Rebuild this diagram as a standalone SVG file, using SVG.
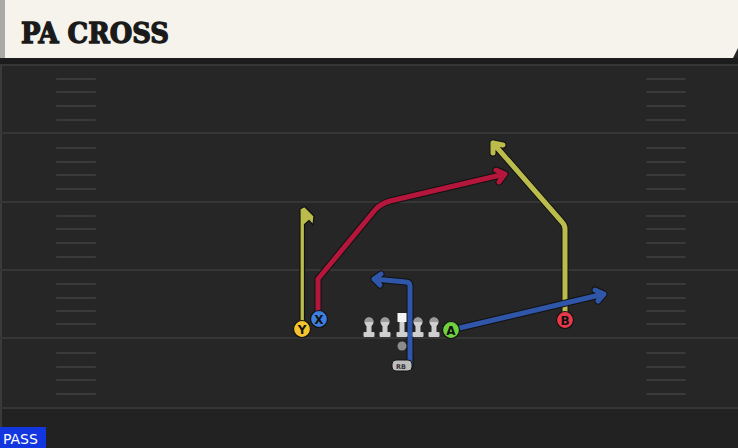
<svg xmlns="http://www.w3.org/2000/svg" width="738" height="448" viewBox="0 0 738 448">
<style>
.fl{stroke:#363636;stroke-width:2}
.hs{stroke:#3a3a3a;stroke-width:2;stroke-linecap:round}
.rt{fill:none;stroke-width:5;stroke-linejoin:round;stroke-linecap:round}
.ol{fill:none;stroke:#111;stroke-width:7;stroke-linejoin:round;stroke-linecap:round}
.pc{stroke:#111;stroke-width:1.2}
.pl{font-family:'DejaVu Sans','Liberation Sans',sans-serif;font-weight:bold;font-size:12px;fill:#111;text-anchor:middle}
</style>
<defs>
<g id="hashes">
<line class="hs" x1="57" x2="95" y1="0" y2="0"/><line class="hs" x1="647" x2="685" y1="0" y2="0"/>
</g>
<g id="lineman">
<circle cx="0" cy="-10" r="4.5" fill="#cfcfcf"/>
<path d="M-4.5,-10 a4.5,4.5 0 0 1 9,0 z" fill="#9a9a9a"/>
<rect x="-2.5" y="-10" width="5" height="10" fill="#cfcfcf"/>
<rect x="-5.5" y="0" width="11" height="5" rx="1" fill="#cfcfcf"/>
</g>
</defs>
<rect width="738" height="448" fill="#262626"/>
<rect y="408" width="738" height="40" fill="#222"/>
<rect x="0" y="58" width="2" height="390" fill="#3a3a3a"/>
<g id="field">
<rect x="0" y="58" width="738" height="6" fill="#1c1c1c"/>
<line class="fl" x1="0" x2="738" y1="65" y2="65"/>
<line class="fl" x1="0" x2="738" y1="133" y2="133"/>
<line class="fl" x1="0" x2="738" y1="202" y2="202"/>
<line class="fl" x1="0" x2="738" y1="270" y2="270"/>
<line class="fl" x1="0" x2="738" y1="338" y2="338"/>
<line class="fl" x1="0" x2="738" y1="408" y2="408"/>
<use href="#hashes" y="79"/><use href="#hashes" y="92"/><use href="#hashes" y="106"/><use href="#hashes" y="120"/>
<use href="#hashes" y="148"/><use href="#hashes" y="162"/><use href="#hashes" y="175"/><use href="#hashes" y="189"/>
<use href="#hashes" y="216"/><use href="#hashes" y="229"/><use href="#hashes" y="243"/><use href="#hashes" y="257"/>
<use href="#hashes" y="284"/><use href="#hashes" y="298"/><use href="#hashes" y="311"/><use href="#hashes" y="324"/>
<use href="#hashes" y="353"/><use href="#hashes" y="367"/><use href="#hashes" y="380"/><use href="#hashes" y="394"/>
</g>
<g id="header">
<rect x="0" y="0" width="5" height="58" fill="#a9aaa6"/>
<polygon points="5,0 738,0 738,48 733,58 5,58" fill="#f5f3ec"/>
<text x="21" y="43" font-family="'DejaVu Serif','Liberation Serif',serif" font-weight="bold" font-size="27" fill="#1a1a1a" stroke="#1a1a1a" stroke-width="1.3" textLength="148" lengthAdjust="spacingAndGlyphs">PA CROSS</text>
</g>
<g id="connectors">
<g id="route-y">
<polygon points="300,209 304.5,206.5 314,216 313,225 309,220.5 304.5,224.5 304.5,330 300,330" fill="#bcbc4c" stroke="#111" stroke-width="1.2" stroke-linejoin="round"/>
</g>
<g id="route-x">
<path class="ol" d="M318,318 V279 L375,210 Q380,204 390,201 L505,174 M496,170 L505,174 L499,182"/>
<path class="rt" stroke="#b4163c" d="M318,318 V279 L375,210 Q380,204 390,201 L505,174 M496,170 L505,174 L499,182"/>
</g>
<g id="route-b">
<path class="ol" d="M565,320 V229 Q565,225 562,222 L493,143 M493,153 L493,143 L503,145"/>
<path class="rt" stroke="#bcbc4c" d="M565,320 V229 Q565,225 562,222 L493,143 M493,153 L493,143 L503,145"/>
</g>
<g id="route-a">
<path class="ol" d="M451,330 L604,294 M595,290 L604,294 L598,301"/>
<path class="rt" stroke="#2f56a8" d="M451,330 L604,294 M595,290 L604,294 L598,301"/>
</g>
<g id="route-rb">
<path class="ol" d="M410,366 V286 Q410,282 406,282 L374,279 M381,274 L374,279 L380,285"/>
<path class="rt" stroke="#2f56a8" d="M410,366 V286 Q410,282 406,282 L374,279 M381,274 L374,279 L380,285"/>
</g>
</g>
<g id="line">
<use href="#lineman" x="369" y="332"/>
<use href="#lineman" x="385" y="332"/>
<g id="center"><rect x="397.5" y="313" width="9" height="9" fill="#f4f4f4"/><rect x="399.5" y="322" width="5" height="10" fill="#cfcfcf"/><rect x="396.5" y="332" width="11" height="5" rx="1" fill="#cfcfcf"/></g>
<use href="#lineman" x="418" y="332"/>
<use href="#lineman" x="434" y="332"/>
</g>
<g id="qb"><circle cx="402" cy="346" r="4.5" fill="#8c8c8c"/></g>
<g id="rb"><rect x="392" y="360" width="20" height="11" rx="4" fill="#bdbdbd" stroke="#111" stroke-width="1"/><text x="401" y="368.5" font-family="'DejaVu Sans','Liberation Sans',sans-serif" font-weight="bold" font-size="6.5" fill="#333" text-anchor="middle">RB</text></g>
<g id="player-y"><circle class="pc" cx="302" cy="329" r="8.5" fill="#f4c42c"/><text class="pl" x="302" y="333.5">Y</text></g>
<g id="player-x"><circle class="pc" cx="319" cy="319" r="8.5" fill="#3d7ede"/><text class="pl" x="319" y="323.5">X</text></g>
<g id="player-a"><circle class="pc" cx="451" cy="330" r="8.5" fill="#6fd13e"/><text class="pl" x="451" y="334.5">A</text></g>
<g id="player-b"><circle class="pc" cx="565" cy="320" r="8.5" fill="#e8394a"/><text class="pl" x="565" y="324.5">B</text></g>
<g id="pass-tag">
<rect x="0" y="427" width="46" height="21" fill="#1236e0"/>
<text x="3" y="444" font-family="'DejaVu Sans','Liberation Sans',sans-serif" font-size="14" fill="#fff">PASS</text>
</g>
</svg>
